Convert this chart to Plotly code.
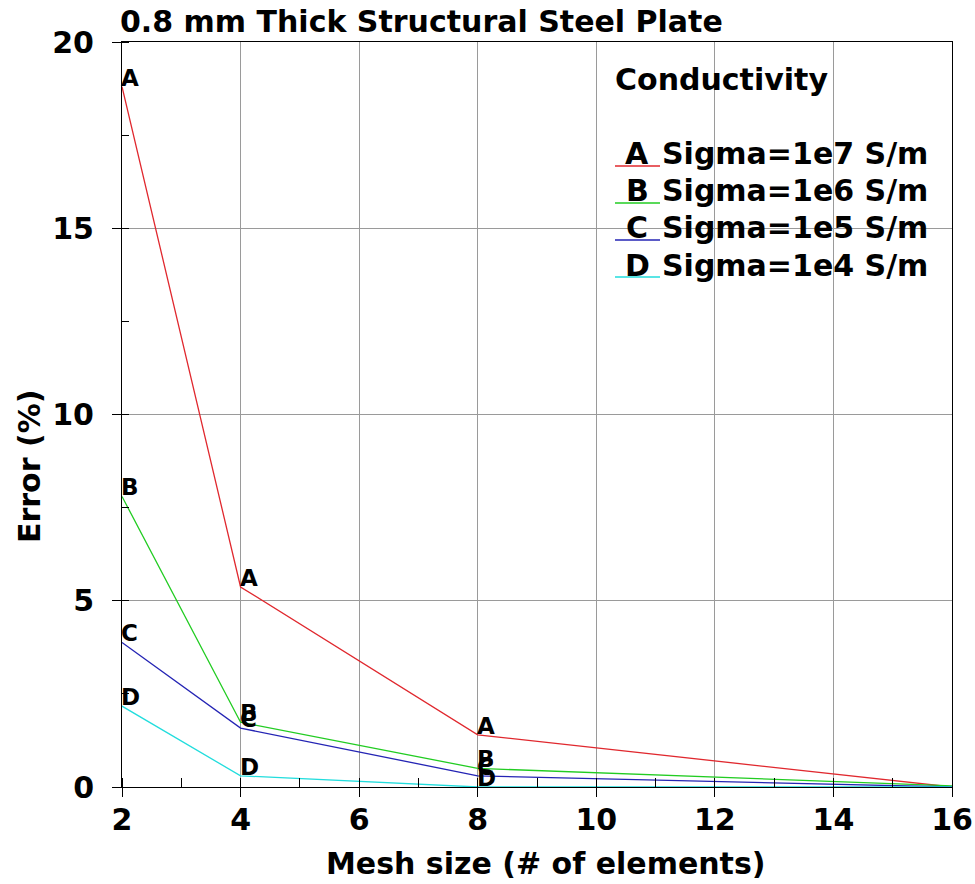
import plotly.graph_objects as go

mesh = [2, 4, 8, 16]
series_names = ["A", "B", "C", "D"]
legend_labels = ["Sigma=1e7 S/m", "Sigma=1e6 S/m", "Sigma=1e5 S/m", "Sigma=1e4 S/m"]
err_A = [18.8, 5.37, 1.40, 0.0]
err_B = [7.8, 1.74, 0.50, 0.03]
err_C = [3.88, 1.58, 0.30, 0.0]
err_D = [2.17, 0.30, 0.0, 0.0]
values = [err_A, err_B, err_C, err_D]
colors = ["#e0282e", "#22cc22", "#2424b4", "#22dddd"]

FONT = "DejaVu Sans"
fig = go.Figure()
annotations = []
for name, vals, col in zip(series_names, values, colors):
    fig.add_trace(go.Scatter(
        x=mesh, y=vals, mode="lines",
        line=dict(color=col, width=1.3), showlegend=False, name=name))
    # point letters (the label at the last mesh size falls outside the plot)
    for xv, yv in zip(mesh[:-1], vals[:-1]):
        annotations.append(dict(x=xv, y=yv, xref="x", yref="y", text=name, showarrow=False,
                                xanchor="left", yanchor="bottom", xshift=-3, yshift=-6,
                                font=dict(family=FONT, size=23, color="black", weight="bold")))

# custom legend
x_left = (599 - 122) / 830
shapes = [dict(type="rect", xref="paper", yref="paper", x0=x_left + 0.002, x1=1, y0=(787 - 297) / 745, y1=1,
               fillcolor="white", line=dict(width=0), layer="between")]
annotations.append(dict(xref="paper", yref="paper", x=(613 - 122) / 830, y=(787 - 80) / 745,
                        xanchor="left", yanchor="middle", showarrow=False, text="Conductivity",
                        font=dict(family=FONT, size=30, color="black", weight="bold")))
for i, (name, lab, col) in enumerate(zip(series_names, legend_labels, colors)):
    base = 165 + 37 * i
    yc = (787 - (base - 11)) / 745
    annotations.append(dict(xref="paper", yref="paper", x=(637 - 122) / 830, y=yc, xanchor="center",
                            yanchor="middle", showarrow=False, text=name,
                            font=dict(family=FONT, size=30, color="black", weight="bold")))
    annotations.append(dict(xref="paper", yref="paper", x=(660 - 122) / 830, y=yc, xanchor="left",
                            yanchor="middle", showarrow=False, text=lab,
                            font=dict(family=FONT, size=30, color="black", weight="bold")))
    ly = (787 - (base + 1)) / 745
    shapes.append(dict(type="line", xref="paper", yref="paper", x0=(615 - 122) / 830, x1=(660 - 122) / 830,
                       y0=ly, y1=ly, line=dict(color=col, width=1.3), layer="above"))

# title and axis titles
annotations.append(dict(xref="paper", yref="paper", x=(118 - 122) / 830, y=(787 - 21) / 745, xanchor="left",
                        yanchor="middle", showarrow=False, text="0.8 mm Thick Structural Steel Plate",
                        font=dict(family=FONT, size=30, color="black", weight="bold")))
annotations.append(dict(xref="paper", yref="paper", x=(546 - 122) / 830, y=(787 - 863) / 745, xanchor="center",
                        yanchor="middle", showarrow=False, text="Mesh size (# of elements)",
                        font=dict(family=FONT, size=30, color="black", weight="bold")))
annotations.append(dict(xref="paper", yref="paper", x=(30 - 122) / 830, y=(787 - 467) / 745, xanchor="center",
                        yanchor="middle", showarrow=False, text="Error (%)", textangle=-90,
                        font=dict(family=FONT, size=30, color="black", weight="bold")))

axis_common = dict(showline=True, linecolor="black", linewidth=1, mirror=True, automargin=False,
                   showgrid=True, gridcolor="#9a9a9a", gridwidth=1, zeroline=False,
                   ticks="outside", ticklen=9, tickcolor="black", tickwidth=1,
                   tickfont=dict(family=FONT, size=30, color="black", weight="bold"))
fig.update_xaxes(range=[2, 16], dtick=2, tick0=2,
                 minor=dict(dtick=1, ticks="inside", ticklen=9, tickcolor="black", showgrid=False),
                 ticklabelstandoff=-3, **axis_common)
fig.update_yaxes(range=[0, 20], dtick=5, tick0=0,
                 minor=dict(dtick=2.5, ticks="inside", ticklen=7, tickcolor="black", showgrid=False),
                 ticklabelstandoff=12, **axis_common)

fig.update_layout(width=975, height=884, margin=dict(l=122, r=23, t=42, b=97, autoexpand=False),
                  paper_bgcolor="white", plot_bgcolor="white",
                  shapes=shapes, annotations=annotations, showlegend=False,
                  font=dict(family=FONT, color="black"))
fig.write_html("out.html")
